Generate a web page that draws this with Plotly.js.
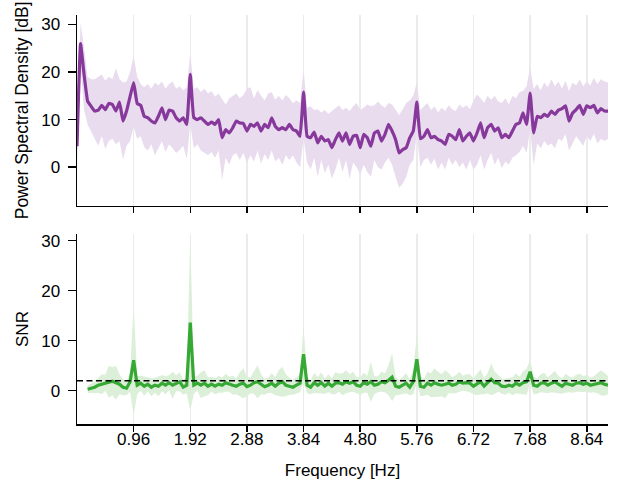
<!DOCTYPE html>
<html>
<head>
<meta charset="utf-8">
<script src="https://cdn.plot.ly/plotly-3.0.1.min.js"></script>
<style>html,body{margin:0;padding:0;background:#fff;}#chart{width:624px;height:498px;}</style>
</head>
<body>
<div id="chart"></div>
<script>
// Frequency grid (Hz): first bin and bin spacing
const freqStart = 0.0;
const freqStep = 0.06;

// Power spectral density (dB): mean, upper and lower band edges
const psdMean = [4.4,26.0,19.5,13.9,12.8,11.8,12.0,13.0,12.1,13.4,13.2,11.8,13.7,9.7,11.8,14.9,17.8,13.4,13.0,10.7,
10.4,9.7,9.3,10.7,12.5,10.0,12.0,11.8,10.4,9.7,10.4,9.0,19.5,10.4,10.0,10.4,9.7,9.0,9.5,9.0,
10.0,6.2,7.9,7.2,8.3,9.7,9.3,9.2,7.6,9.0,8.6,9.3,7.6,9.0,8.3,10.4,8.6,7.9,8.3,7.9,
9.0,7.9,7.6,6.5,15.8,6.5,6.2,7.4,5.1,6.5,5.5,5.8,4.1,5.8,7.2,5.5,7.2,4.8,6.5,6.7,
4.1,6.9,6.2,4.4,7.2,7.6,5.5,6.9,9.0,7.6,5.8,3.0,3.7,4.1,6.2,7.6,13.7,6.0,6.5,7.9,
6.2,6.5,5.8,5.5,4.8,6.9,6.5,5.8,7.9,5.5,6.5,7.2,5.5,7.2,9.3,6.2,8.3,9.0,7.6,8.3,
6.2,6.9,6.2,7.6,9.0,9.3,11.4,9.0,15.6,7.2,10.7,10.4,11.1,10.7,11.8,11.1,12.0,12.3,12.9,9.7,
11.4,12.1,13.0,11.1,12.9,12.5,13.0,11.4,12.3,11.8,11.8];
const psdHigh = [9,30.5,25,19,18.5,18.5,19,19.5,18.2,19,18.5,20.8,18.5,17.8,18,20,23.4,19,17.5,16.8,
17.5,16.5,17.8,17.2,18,16.5,17.5,18,16.5,17,16.2,16.8,24,16.5,16.8,15.8,16.5,15.5,16,14.8,
15.5,14.2,13.2,14.5,15,15.5,14.5,15.2,16.5,16.8,14.5,16.2,15,14,15.5,15.8,14.2,15,14,15.2,
14.5,13.5,14,13.5,20.6,12.5,12.8,12,12.2,11.5,12,11.2,11.8,12.5,13,12,12.5,11.8,12.8,13.5,
12,12.5,13.2,12.8,13,13.8,13,12.5,13.5,13.2,12,11,12.2,13.5,14,15,17.8,12,12.8,13.5,
12,12.8,11.5,12.5,11.8,13,12.2,11.8,13.2,12.5,13,12.2,14,15.3,14.5,13.5,15,14.2,15,13.8,
13.5,14.5,13.2,15,14.5,15.8,16,17,20.9,16.5,17.5,16.2,17.8,16.8,18.5,17,18,16.5,18.2,16,
17.8,17.2,18.5,17,18,17.2,18.8,17.5,18.5,18,17.8];
const psdLow = [0,21,12,9,7.5,6,4.5,6.5,3.8,5.5,6,4.8,5.5,1.6,4.5,5.5,8.5,6,6.5,4.2,
3.5,4.8,2.5,4,5.5,3.2,4.8,4,3,3.6,4.5,1.8,9,4,4.8,3.5,3,2.5,3.2,2,
3.5,-2.6,2,0.5,2.5,3,1.5,3,1,2.5,1.2,3.5,0.8,2.8,1.5,3.5,1.2,2,0.5,2.5,
1.5,2.5,1,0,6,1,-0.5,2,-2,1.5,-1.2,0.5,-2.4,-0.5,2,-1,1.5,-2.5,1,0,
-1.5,0.5,-1,-2,1.5,0,-0.5,1,2,0.5,-2,-4.3,-3.5,-2,0.5,1.5,7,0,1.5,2,
0.5,1.8,-0.5,1,-0.5,2,0.5,1.5,0,1,-0.5,1.5,-0.5,0.5,2.5,-0.5,1.5,3,0.5,2,
-0.2,1.2,0.5,2,2.5,3.2,4.5,3,8,0.5,5,4,5.5,4.5,5,4,6,5.5,7,3.5,
5,6.5,5.5,4.5,6.5,5.5,7,5,6,5.5,6];

// SNR: first bin with a value, mean and standard deviation
const snrStart = 0.18;
const snrMean = [0.3,0.5,0.7,1.1,1.3,1.6,1.8,1.9,1.6,1.3,0.7,0.5,1.8,6.1,1.1,1.5,0.9,1.3,0.7,1.1,
0.9,1.5,1.1,1.6,1.1,1.5,1.8,0.7,1.1,13.6,1.1,1.5,1.1,1.5,0.9,1.3,0.9,1.3,1.1,1.6,
1.3,1.1,0.9,1.3,1.5,0.8,1.1,1.6,1.8,1.3,0.8,1.1,1.5,0.9,1.5,1.8,1.1,0.9,0.7,1.1,
1.5,7.3,1.1,0.7,1.6,1.1,1.6,0.9,1.5,0.9,1.5,1.6,1.3,1.8,1.5,1.8,1.1,0.9,1.6,1.3,
1.8,1.1,1.3,1.8,1.6,2.1,2.7,0.9,0.7,1.1,1.5,0.7,1.8,6.3,0.9,0.7,1.5,1.1,1.6,1.3,
1.1,1.3,1.5,1.1,1.3,1.8,1.5,1.6,1.5,0.9,1.3,1.8,0.9,1.5,2.3,1.6,1.5,0.9,0.8,1.1,
0.9,1.5,1.1,1.6,1.8,3.8,1.1,0.9,1.5,1.6,1.1,1.5,1.8,1.3,0.9,1.5,1.3,1.1,1.5,1.6,
1.3,1.5,1.1,1.3,1.5,1.6,1.3,1.1];
const snrStd = [0.8,0.9,1.2,1.5,2.0,1.6,3.2,2.8,3.4,2.0,1.6,1.4,2.0,11.0,1.8,1.5,1.9,1.4,1.8,1.5,
2.0,1.6,1.8,1.5,2.7,1.6,1.9,1.5,1.6,17.6,1.7,1.5,2.6,2.6,1.8,1.5,1.6,1.7,1.5,1.8,
1.5,1.9,1.6,2.4,3.0,1.9,1.6,2.2,3.3,2.0,1.6,1.5,2.0,1.8,2.6,3.0,2.2,1.7,1.5,1.6,
1.8,5.7,1.6,1.4,2.0,1.6,2.1,1.5,1.8,1.6,2.2,1.8,2.2,2.3,1.8,2.0,1.6,1.8,2.0,1.7,
4.0,1.8,1.6,2.0,1.9,3.0,4.8,1.8,1.5,1.7,2.0,1.6,2.5,4.8,2.0,1.7,2.3,2.4,2.9,2.5,
2.2,2.8,2.0,1.6,1.8,2.0,1.5,1.7,1.8,1.6,2.2,2.5,1.6,2.0,3.2,2.2,1.7,1.5,1.6,1.5,
1.8,2.0,1.7,2.3,2.6,2.3,1.8,1.5,1.8,2.0,1.6,1.8,2.2,1.7,1.5,1.9,1.6,1.5,1.7,1.8,
1.6,1.7,1.5,1.6,2.0,2.5,2.3,1.8];

// Threshold line and axis ticks
const snrThreshold = 2;
const xTickVals = [0.96,1.92,2.88,3.84,4.80,5.76,6.72,7.68,8.64];
const xTickText = ['0.96','1.92','2.88','3.84','4.80','5.76','6.72','7.68','8.64'];
const yTickVals = [0,10,20,30];

const psdFreq = psdMean.map((_, i) => +(freqStart + i * freqStep).toFixed(2));
const snrFreq = snrMean.map((_, i) => +(snrStart + i * freqStep).toFixed(2));
const snrHigh = snrMean.map((v, i) => v + snrStd[i]);
const snrLow = snrMean.map((v, i) => v - snrStd[i]);

const purple = '#87399b', purpleBand = '#e9dcee';
const green = '#36a834', greenBand = '#dcefd9';

const traces = [
  {x: psdFreq, y: psdLow, xaxis:'x', yaxis:'y', mode:'lines', line:{width:0, color:purpleBand}, hoverinfo:'skip'},
  {x: psdFreq, y: psdHigh, xaxis:'x', yaxis:'y', mode:'lines', line:{width:0, color:purpleBand}, fill:'tonexty', fillcolor:purpleBand, hoverinfo:'skip'},
  {x: psdFreq, y: psdMean, xaxis:'x', yaxis:'y', mode:'lines', line:{width:3.2, color:purple, shape:'spline', smoothing:0.3}},
  {x: snrFreq, y: snrLow, xaxis:'x2', yaxis:'y2', mode:'lines', line:{width:0, color:greenBand}, hoverinfo:'skip'},
  {x: snrFreq, y: snrHigh, xaxis:'x2', yaxis:'y2', mode:'lines', line:{width:0, color:greenBand}, fill:'tonexty', fillcolor:greenBand, hoverinfo:'skip'},
  {x: snrFreq, y: snrMean, xaxis:'x2', yaxis:'y2', mode:'lines', line:{width:3.2, color:green}}
];

const axisCommon = {
  showline:true, linecolor:'#000', linewidth:1.5, mirror:false,
  ticks:'outside', ticklen:6, tickwidth:1.5, tickcolor:'#000',
  zeroline:false
};
const xCommon = Object.assign({}, axisCommon, {
  range:[0, 9.0], tickvals:xTickVals, ticktext:xTickText,
  showgrid:true, gridcolor:'#ebebeb', gridwidth:1.5, ticklabelstandoff:-7
});
const yCommon = Object.assign({}, axisCommon, {
  tickvals:yTickVals, showgrid:false, ticklabelstandoff:4, ticklen:8
});

const layout = {
  width:624, height:498,
  margin:{l:77, r:16, t:15, b:74},
  paper_bgcolor:'#fff', plot_bgcolor:'#fff',
  showlegend:false,
  font:{family:'"Liberation Sans", Arial, Helvetica, sans-serif', size:17, color:'#000'},
  xaxis: Object.assign({}, xCommon, {domain:[0,1], anchor:'y', showticklabels:false}),
  yaxis: Object.assign({}, yCommon, {domain:[0.5337,1], anchor:'x', range:[-8.1,32.0],
    title:{text:'Power Spectral Density [dB]', standoff:8, font:{size:17.5}}}),
  xaxis2: Object.assign({}, xCommon, {domain:[0,1], anchor:'y2',
    title:{text:'Frequency [Hz]', standoff:16, font:{size:17}}}),
  yaxis2: Object.assign({}, yCommon, {domain:[0,0.4645], anchor:'x2', range:[-6.66,31.34],
    title:{text:'SNR', standoff:8, font:{size:17}}}),
  shapes:[{type:'line', xref:'x2 domain', yref:'y2', x0:0, x1:1, y0:snrThreshold, y1:snrThreshold,
    line:{color:'#000', width:1.5, dash:'6px,3.5px'}, layer:'above'}]
};

Plotly.newPlot('chart', traces, layout, {staticPlot:true, displayModeBar:false});
</script>
</body>
</html>
